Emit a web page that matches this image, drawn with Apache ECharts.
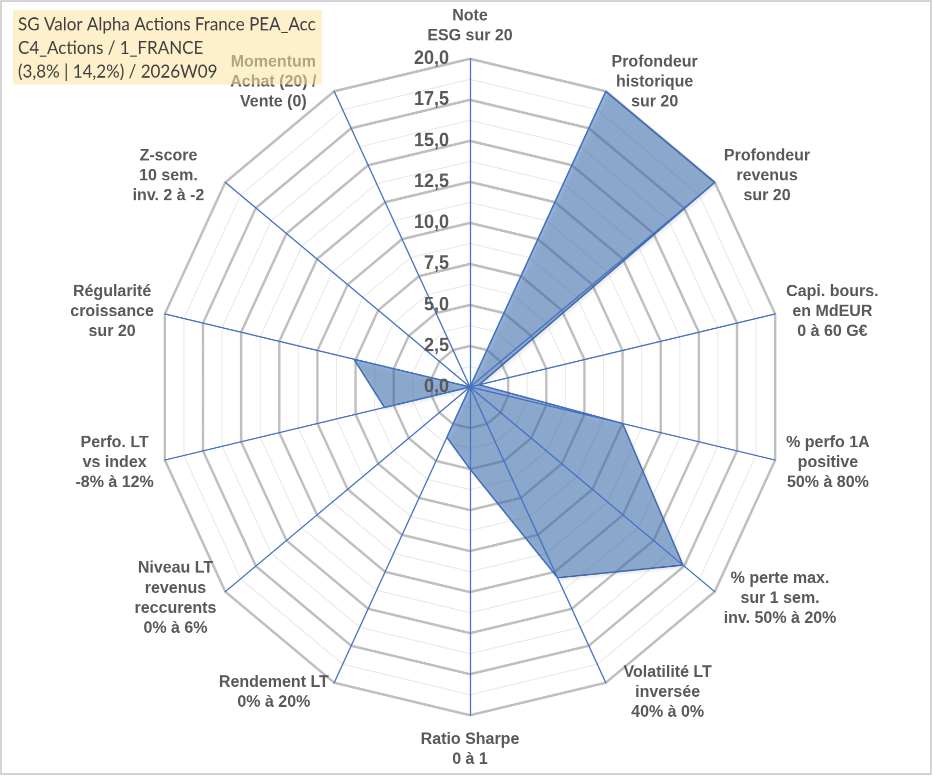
<!DOCTYPE html>
<html>
<head>
<meta charset="utf-8">
<script src="https://cdn.jsdelivr.net/npm/echarts@6/dist/echarts.min.js"></script>
<style>
html,body{margin:0;padding:0;background:#fff;}
#wrap{width:933px;height:776px;overflow:hidden;position:relative;}
#c{width:933px;height:740px;transform:scaleY(1.048649);transform-origin:0 0;}
</style>
</head>
<body>
<div id="wrap"><div id="c"></div></div>
<script>
// ---- data ----
const categories = [
  "Note\nESG sur 20",
  "Profondeur\nhistorique\nsur 20",
  "Profondeur\nrevenus\nsur 20",
  "Capi. bours.\nen MdEUR\n0 à 60 G€",
  "% perfo 1A\npositive\n50% à 80%",
  "% perte max.\nsur 1 sem.\ninv. 50% à 20%",
  "Volatilité LT\ninversée\n40% à 0%",
  "Ratio Sharpe\n0 à 1",
  "Rendement LT\n0% à 20%",
  "Niveau LT\nrevenus\nreccurents\n0% à 6%",
  "Perfo. LT\nvs index\n-8% à 12%",
  "Régularité\ncroissance\nsur 20",
  "Z-score\n10 sem.\ninv. 2 à -2",
  "Momentum\nAchat (20) /\nVente (0)"
];
const values = [0, 20, 20, 0.6, 10.0, 17.4, 12.9, 5.0, 3.4, 0, 5.6, 7.6, 0, 0];
const seriesName = "SG Valor Alpha Actions France PEA_Acc";
const axisMin = 0;
const axisMax = 20;
const majorSplits = 8;   // ticks every 2,5
const minorSplits = 16;  // light rings every 1,25
const titleLines = [
  "SG Valor Alpha Actions France PEA_Acc",
  "C4_Actions / 1_FRANCE",
  "(3,8% | 14,2%) / 2026W09"
];

// ---- layout / style ----
const SY = 776 / 740;            // vertical stretch of the original picture
const center = [470, 387 / SY];
const radius = 313;
const nameFontSize = 16;
const nameStyle = {fontFamily: 'Liberation Sans', fontWeight: 'bold', fontSize: nameFontSize, color: '#595959', lineHeight: 20 / SY};
// per-label tweaks (by category index)
const nameGaps = {0: 12.5, 7: 13.4};
const namePads = {6: [0, 0, 0, 12], 12: [0, 12, 0, 0], 13: [0, 12, 0, 0]};

// ECharts places indicators counter-clockwise; reverse to get clockwise order
const ord = [0];
for (let i = categories.length - 1; i >= 1; i--) ord.push(i);

const mctx = document.createElement('canvas').getContext('2d');
mctx.font = 'bold ' + nameFontSize + 'px "Liberation Sans"';
const rich = {};
categories.forEach((c, i) => {
  const w = Math.max.apply(null, c.split('\n').map(l => mctx.measureText(l).width));
  rich['k' + i] = Object.assign({width: Math.ceil(w) + 2, align: 'center'}, nameStyle);
});

const indicators = ord.map(i => ({name: categories[i], min: axisMin, max: axisMax}));
const fmtTick = v => Number(v).toFixed(1).replace('.', ',');

const baseRadar = {
  center: center, radius: radius, startAngle: 90, shape: 'polygon',
  splitArea: {show: false}, axisTick: {show: false}, axisLabel: {show: false}
};

const radarMinor = Object.assign({}, baseRadar, {
  indicator: indicators.map(d => ({name: d.name, min: d.min, max: d.max})),
  splitNumber: minorSplits,
  axisName: {show: false},
  axisLine: {show: false},
  splitLine: {lineStyle: {color: '#E9E9E9', width: 1}},
  z: 0
});
const radarMajor = Object.assign({}, baseRadar, {
  indicator: indicators.map(d => ({name: d.name, min: d.min, max: d.max})),
  splitNumber: majorSplits,
  axisName: {show: false},
  axisLine: {show: false},
  splitLine: {lineStyle: {color: '#BFBFBF', width: 2.4}},
  z: 1
});
const radarMain = Object.assign({}, baseRadar, {
  indicator: ord.map((ci, k) => {
    const d = {name: categories[ci], min: axisMin, max: axisMax};
    if (k === 0) {
      d.axisLabel = {show: true, formatter: fmtTick, fontFamily: 'Liberation Sans', fontWeight: 'bold', fontSize: 18, color: '#595959', margin: 21, align: 'right'};
    }
    if (nameGaps[ci] != null) d.nameGap = nameGaps[ci];
    if (namePads[ci]) d.nameTextStyle = {padding: namePads[ci]};
    return d;
  }),
  splitNumber: majorSplits,
  axisNameGap: 10,
  axisName: Object.assign({
    show: true,
    formatter: function (name) {
      const i = categories.indexOf(name);
      return name.split('\n').map(l => '{k' + i + '|' + l + '}').join('\n');
    },
    rich: rich
  }, nameStyle),
  axisLine: {show: true, lineStyle: {color: '#4472C4', width: 1.25}},
  splitLine: {show: false},
  z: 5
});

const chart = echarts.init(document.getElementById('c'), null, {renderer: 'canvas', devicePixelRatio: 2});
chart.setOption({
  backgroundColor: '#ffffff',
  animation: false,
  title: {
    text: titleLines.join('\n'),
    left: 13, top: 10 / SY,
    padding: [3 / SY, 6, 1 / SY, 5],
    backgroundColor: 'rgba(251,228,160,0.55)',
    textStyle: {fontFamily: 'Lato', fontWeight: 'normal', fontSize: 17, color: '#404040', lineHeight: 23.5 / SY},
    z: 10
  },
  graphic: [{
    type: 'rect', silent: true, z: 20,
    shape: {x: 1, y: 1 / SY, width: 930, height: 773 / SY},
    style: {fill: 'none', stroke: '#C8C8C8', lineWidth: 1.5}
  }],
  radar: [radarMinor, radarMajor, radarMain],
  series: [{
    type: 'radar',
    radarIndex: 2,
    z: 3,
    symbol: 'none',
    lineStyle: {color: '#4472C4', width: 1.5},
    areaStyle: {color: 'rgba(60,112,182,0.75)', shadowBlur: 3, shadowColor: 'rgba(0,0,0,0.2)', shadowOffsetX: 2, shadowOffsetY: 2},
    data: [{name: seriesName, value: ord.map(i => values[i])}]
  }]
});
</script>
</body>
</html>
